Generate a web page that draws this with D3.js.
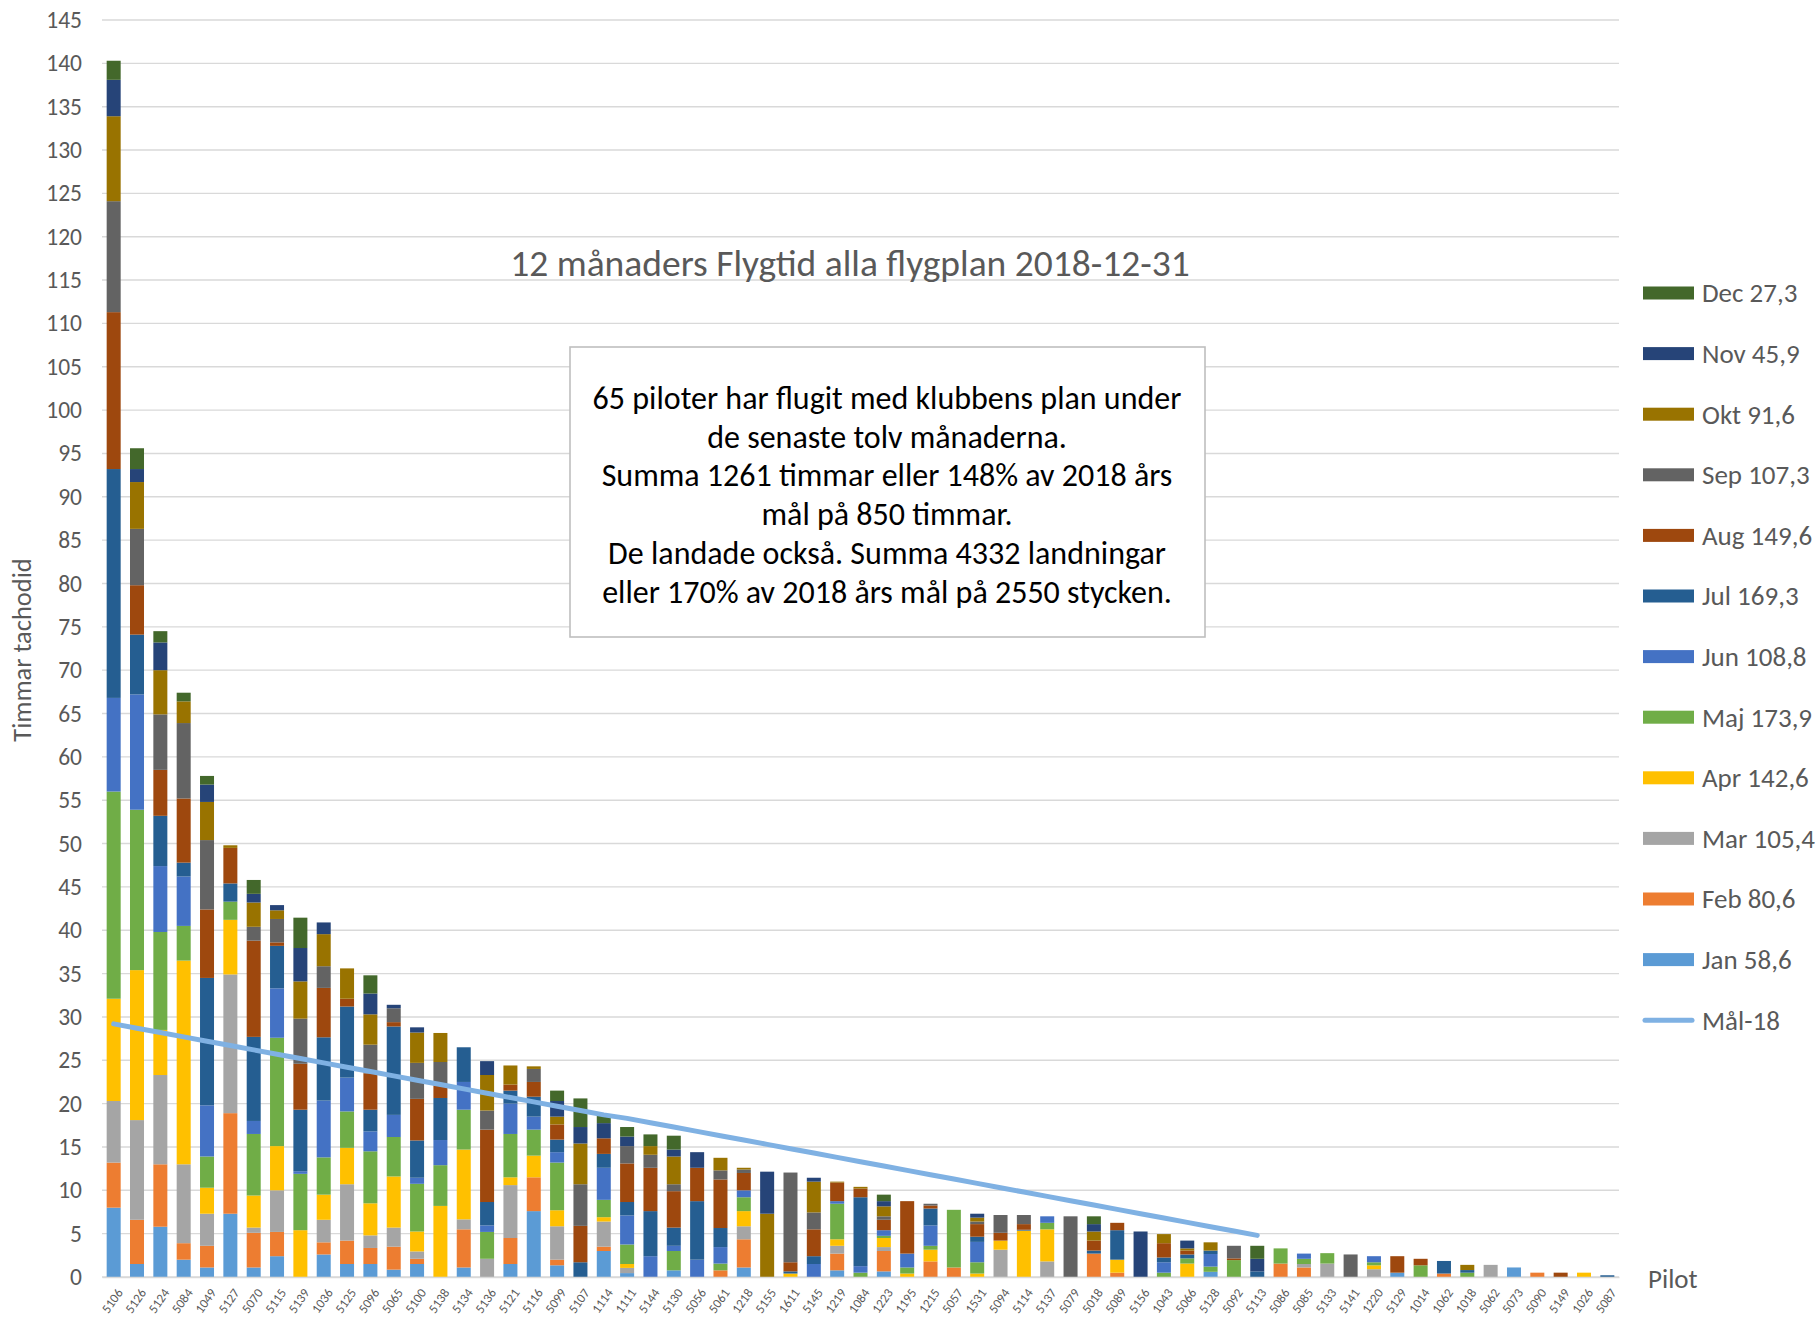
<!DOCTYPE html>
<html>
<head>
<meta charset="utf-8">
<script src="https://cdn.jsdelivr.net/npm/d3@7"></script>
<style>
body { margin:0; background:#fff; }
text { font-family: Carlito, Lato, sans-serif; }
</style>
</head>
<body>
<div id="chart"></div>
<script>

var W = 1820, H = 1317;
var margin = {l:102, r:201, t:20, b:40};

// pilots in chart order
var pilots = ["5106","5126","5124","5084","1049","5127","5070","5115","5139","1036",
	"5125","5096","5065","5100","5138","5134","5136","5121","5116","5099",
	"5107","1114","1111","5144","5130","5056","5061","1218","5155","1611",
	"5145","1219","1084","1223","1195","1215","5057","1531","5094","5114",
	"5137","5079","5018","5089","5156","1043","5066","5128","5092","5113",
	"5086","5085","5133","5141","1220","5129","1014","1062","1018","5062",
	"5073","5090","5149","1026","5087"];

var months = ["Jan","Feb","Mar","Apr","Maj","Jun","Jul","Aug","Sep","Okt","Nov","Dec"];
var monthTotals = ["58,6","80,6","105,4","142,6","173,9","108,8","169,3","149,6","107,3","91,6","45,9","27,3"];
var monthColors = ["#5b9bd5","#ed7d31","#a5a5a5","#ffc000","#70ad47","#4472c4",
	"#255e91","#9e480e","#636363","#997300","#264478","#43682b"];

// hours per pilot, one array per month
var jan = [8.0,1.5,5.8,2.0,1.1,7.3,1.1,2.4,0,2.6, 1.5,1.5,0.85,1.5,0,1.1,0,1.5,7.6,1.35,
	0,3.0,0.45,0,0.77,0,0,1.1,0,0, 0,0.77,0,0.65,0,0,0,0,0,0,
	0,0,0,0,0,0,0,0.6,0,0, 0,0,0,0,0,0.5,0,0,0,0, 1.1,0,0,0,0];
var feb = [5.2,5.1,7.2,1.9,2.5,11.6,4.0,2.8,0,1.4, 2.7,1.85,2.65,0.6,0,4.4,0,3.0,3.9,0.65,
	0,0.5,0,0,0,0,0.77,3.25,0,0, 0,1.93,0,2.35,0,1.8,1.1,0,0,0,
	0,0,2.7,0.5,0,0,0,0,0,0, 1.55,1.1,0,0,0,0,0,0.4,0,0, 0,0.5,0,0,0];
var mar = [7.1,11.5,10.3,9.1,3.7,16.0,0.6,4.8,0,2.6, 6.5,1.45,2.2,0.85,0,1.15,2.1,6.1,0,3.85,
	0,2.9,0.6,0,0,0,0,1.5,0,0, 0,0.9,0,0.45,0,0,0,0,3.15,0,
	1.8,0,0,0,0,0,0,0,0,0, 0,0.4,1.55,0,0.9,0,0,0,0,1.4, 0,0,0,0,0];
var apr = [11.8,17.3,5.2,23.5,3.0,6.3,3.7,5.1,5.4,2.9, 4.2,3.7,5.9,2.3,8.2,8.05,0,0.9,2.5,1.85,
	0,0.5,0.45,0,0,0,0,1.75,0,0.4, 0,0.75,0,1.05,0.4,1.35,0,0.4,1.05,5.35,
	3.7,0,0,1.5,0,0,1.55,0,0,0, 0,0,0,0,0.45,0,0,0,0,0, 0,0,0,0.5,0];
var maj = [23.9,18.5,11.3,4.0,3.6,2.1,7.1,12.5,6.5,4.3, 4.2,6.0,4.55,5.5,4.7,4.6,3.1,5.0,3.0,5.5,
	0,2.0,2.25,0,2.23,0,0.78,1.6,0,0, 0,4.1,0.5,0.25,0.7,0.45,6.65,1.3,0,0,
	0.75,0,0,0,0,0.5,0.6,0.6,1.95,0, 1.75,0.6,1.2,0,0.35,0,1.35,0,0.5,0, 0,0,0,0,0];
var jun = [10.8,13.3,7.6,5.7,5.9,0,1.5,5.7,0.3,6.55, 3.9,2.3,2.55,0.7,2.9,3.2,0.75,3.5,1.5,1.2,
	0,3.7,3.35,2.4,0.6,2.0,1.9,0.8,0,0, 1.5,0.3,0.75,0.65,1.6,2.35,0,2.35,0,0,
	0.75,0,0,0,0,1.2,0,1.45,0,0, 0,0.6,0,0,0.7,0,0,0,0,0, 0,0,0,0,0];
var jul = [26.4,6.9,5.8,1.6,14.7,2.1,9.7,4.9,7.1,7.3, 8.2,2.5,10.2,4.3,4.85,4.0,2.7,1.5,2.3,1.45,
	1.7,1.6,1.55,5.2,2.1,6.75,2.2,0,0,0.25, 0.9,0,7.95,0,0,1.95,0,0.6,0,0.1,
	0,0,0.35,3.4,0,0.55,0.45,0.4,0,0.65, 0,0,0,0,0,0,0,1.45,0.3,0, 0,0,0,0,0.2];
var aug = [18.1,5.7,5.3,7.4,7.9,4.1,11.1,0.4,5.3,5.7, 0.9,4.2,0.5,4.8,1.45,0,8.35,0.7,1.7,1.75,
	4.2,1.8,4.45,5.0,4.2,3.85,5.6,2.0,0,1.05, 3.1,2.15,1.0,1.2,6.05,0.35,0,1.45,0.9,0.65,
	0,0,1.15,0.85,0,1.65,0.45,0,0.2,0, 0,0,0,0,0,1.9,0.75,0,0,0, 0,0,0.5,0,0];
var sep = [12.8,6.5,6.4,8.7,8.0,0,1.6,2.7,5.2,2.5, 0,3.3,1.6,4.15,2.7,0,2.2,0,1.5,0,
	4.8,0,2.0,1.5,0.8,0,1.05,0.4,0,10.35, 1.95,0,0,0.4,0,0.2,0,0.3,2.05,1.05,
	0,7.0,0,0,0,0,0,0,1.45,0, 0,0,0,2.6,0,0,0,0,0,0, 0,0,0,0,0];
var okt = [9.8,5.4,5.1,2.5,4.4,0.3,2.8,1.0,4.3,3.7, 3.5,3.5,0,3.5,3.35,0,4.1,2.2,0.3,0.9,
	4.7,0,0,1.0,3.2,0,1.45,0.2,7.3,0, 3.55,0.1,0.2,1.15,0,0,0,0.45,0,0,
	0,0,1.05,0,0,1.05,0.25,0.95,0,0, 0,0,0,0,0,0,0,0,0.6,0, 0,0,0,0,0];
var nov = [4.2,1.5,3.2,0,2.0,0,1.0,0.6,3.85,1.35, 0,2.4,0.4,0.6,0,0,1.6,0,0,1.8,
	1.9,1.75,1.1,0,0.8,1.8,0,0,4.85,0, 0.45,0,0,0.6,0,0,0,0.45,0,0,
	0,0,0.85,0,5.25,0,0.9,0,0,1.45, 0,0,0,0,0,0,0,0,0,0, 0,0,0,0,0];
var dec = [2.2,2.4,1.3,1.0,1.0,0,1.6,0,3.5,0, 0,2.1,0,0,0,0,0,0,0,1.2,
	3.3,0.9,1.1,1.35,1.6,0,0,0,0,0, 0,0,0,0.75,0,0,0,0,0,0,
	0,0,0.9,0,0,0,0,0,0,1.5, 0,0,0,0,0,0,0,0,0,0, 0,0,0,0,0];

// Mål-18, first 50 pilots
var goal = [29.2,28.7,28.2,27.7,27.2,26.7,26.2,25.7,25.2,24.7,
	24.2,23.7,23.2,22.7,22.2,21.7,21.2,20.7,20.2,19.7,
	19.2,18.7,18.3,17.8,17.3,16.8,16.3,15.8,15.3,14.8,
	14.3,13.8,13.3,12.8,12.3,11.8,11.3,10.8,10.3,9.8,
	9.3,8.8,8.3,7.8,7.3,6.8,6.3,5.8,5.3,4.8];

var yTicks = d3.range(0, 146, 5);

var title = "12 månaders Flygtid alla flygplan 2018-12-31";
var note = ["65 piloter har flugit med klubbens plan under",
	"de senaste tolv månaderna.",
	"Summa 1261 timmar eller 148% av 2018 års",
	"mål på 850 timmar.",
	"De landade också. Summa 4332 landningar",
	"eller 170% av 2018 års mål på 2550 stycken."];

var series = [jan,feb,mar,apr,maj,jun,jul,aug,sep,okt,nov,dec];
var rows = pilots.map(function(p,i){
	var r = {pilot:p};
	months.forEach(function(m,j){ r[m] = series[j][i]; });
	return r;
});

var svg = d3.select("#chart").append("svg")
	.attr("width",W).attr("height",H)
	.attr("viewBox","0 0 "+W+" "+H);

var X = d3.scaleBand().domain(pilots)
	.range([margin.l, W-margin.r]).paddingInner(0.4).paddingOuter(0.2);
var Y = d3.scaleLinear().domain([0,145]).range([H-margin.b, margin.t]);
var color = d3.scaleOrdinal().domain(months).range(monthColors);

var grey = "#595959";

// gridlines
svg.append("g").selectAll("line").data(yTicks).enter().append("line")
	.attr("x1",margin.l).attr("x2",W-margin.r)
	.attr("y1",function(d){return Y(d)}).attr("y2",function(d){return Y(d)})
	.style("stroke","#d9d9d9").style("stroke-width",1.4);

// y axis labels
var ya = svg.append("g").attr("transform","translate("+margin.l+",0)")
	.call(d3.axisLeft(Y).tickValues(yTicks).tickSize(0).tickPadding(20));
ya.select(".domain").remove();
ya.selectAll("text").style("font-family","Carlito, Lato, sans-serif")
	.style("font-size","23.5px").style("fill",grey);

// title + note box
svg.append("text").attr("x",850).attr("y",263).attr("dy","0.35em")
	.attr("text-anchor","middle").style("font-size","37.5px").style("fill",grey)
	.text(title);

svg.append("rect").attr("x",570).attr("y",347).attr("width",635).attr("height",290)
	.style("fill","#fff").style("stroke","#bfbfbf").style("stroke-width",1.6);

svg.append("g").selectAll("text").data(note).enter().append("text")
	.attr("x",887).attr("y",function(d,i){return 397.5+i*38.8})
	.attr("dy","0.35em").attr("text-anchor","middle")
	.style("font-size","32px").style("fill","#000")
	.text(function(d){return d});

// stacked bars
var stack = d3.stack().keys(months)(rows);
svg.append("g").selectAll("g").data(stack).enter().append("g")
	.style("fill",function(d){return color(d.key)})
	.selectAll("rect").data(function(d){return d}).enter().append("rect")
	.attr("x",function(d){return X(d.data.pilot)})
	.attr("width",X.bandwidth())
	.attr("y",function(d){return Y(d[1])})
	.attr("height",function(d){return Y(d[0])-Y(d[1])});

// goal line
var line = d3.line()
	.x(function(d,i){return X(pilots[i])+X.bandwidth()/2})
	.y(function(d){return Y(d)});
svg.append("path").datum(goal).attr("d",line)
	.style("fill","none").style("stroke","#7fb1e3")
	.style("stroke-width",5).style("stroke-linecap","round").style("stroke-linejoin","round");

// x axis
var xa = svg.append("g").attr("transform","translate(0,"+Y(0)+")")
	.call(d3.axisBottom(X).tickSize(0));
xa.select(".domain").style("stroke","#d9d9d9").style("stroke-width",1.4);
xa.selectAll("text")
	.attr("x",0).attr("y",0).attr("dy","0.35em")
	.attr("transform","translate(6,13) rotate(-55)")
	.attr("text-anchor","end")
	.style("font-family","Carlito, Lato, sans-serif")
	.style("font-size","13px").style("fill",grey);

svg.append("text").attr("x",1648).attr("y",1279).attr("dy","0.35em")
	.style("font-size","27px").style("fill",grey).text("Pilot");

svg.append("text").attr("x",22).attr("y",650).attr("dy","0.35em")
	.attr("transform","rotate(-90,22,650)").attr("text-anchor","middle")
	.style("font-size","26.5px").style("fill",grey).text("Timmar tachodid");

// legend, Dec on top
var legendItems = months.map(function(m,i){return {key:m, label:m+" "+monthTotals[i]}}).reverse();
legendItems.push({key:"goal", label:"Mål-18"});

var lg = svg.append("g").selectAll("g").data(legendItems).enter().append("g")
	.attr("transform",function(d,i){return "translate(1643,"+(293+i*60.6)+")"});
lg.filter(function(d){return d.key!="goal"}).append("rect")
	.attr("x",0).attr("y",-6.5).attr("width",51).attr("height",13)
	.style("fill",function(d){return color(d.key)});
lg.filter(function(d){return d.key=="goal"}).append("line")
	.attr("x1",2).attr("x2",49).attr("y1",0).attr("y2",0)
	.style("stroke","#7fb1e3").style("stroke-width",5).style("stroke-linecap","round");
lg.append("text").attr("x",59).attr("dy","0.35em")
	.style("font-size","27px").style("fill",grey)
	.text(function(d){return d.label});

</script>
</body>
</html>
